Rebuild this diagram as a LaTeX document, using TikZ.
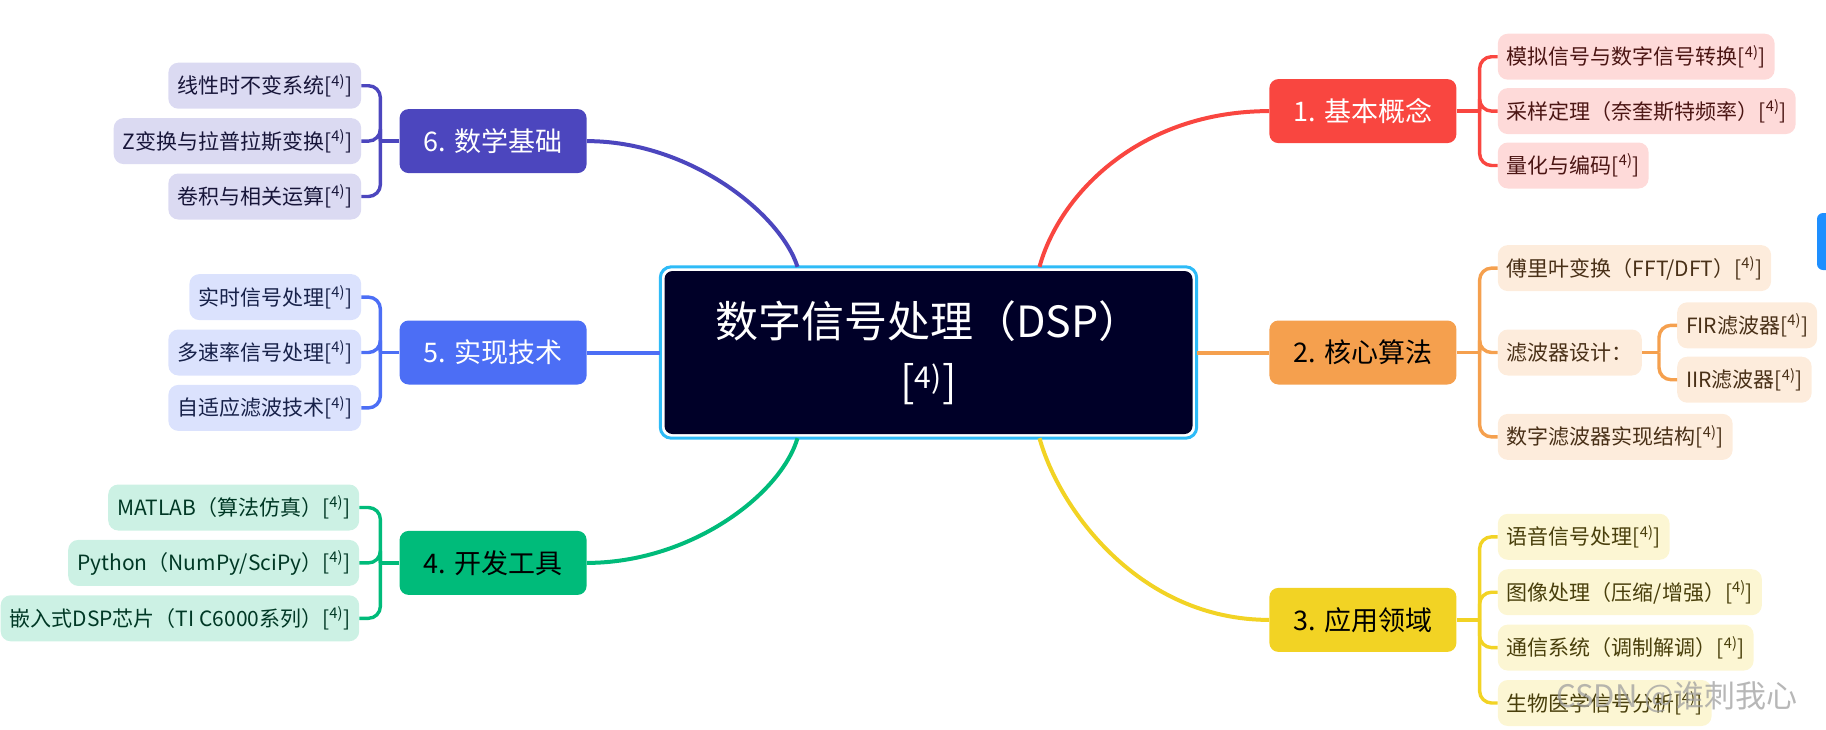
\documentclass[tikz,border=0pt]{standalone}
\usepackage{fontspec}
\setmainfont{Noto Sans CJK SC}
\usetikzlibrary{positioning}
\definecolor{conceptred}{HTML}{F94640}
\definecolor{algoorange}{HTML}{F5A04E}
\definecolor{appyellow}{HTML}{F2D324}
\definecolor{toolgreen}{HTML}{00BB7A}
\definecolor{implblue}{HTML}{4C6EF5}
\definecolor{mathviolet}{HTML}{4C46BE}
\definecolor{rootnavy}{HTML}{000028}
\definecolor{rootrimblue}{HTML}{2EBBF7}
\definecolor{uiblue}{HTML}{1E8FFF}
\newcommand{\srcref}{[\textsuperscript{4)}]}

\begin{document}
\begin{tikzpicture}[
		x=1pt, y=-1pt,
		root/.style={fill=rootnavy, rounded corners=8pt, text=white, align=center,
				minimum width=528pt, minimum height=163pt,
				font=\fontsize{43}{60}\selectfont},
		rootrim/.style={draw=rootrimblue, line width=3pt, rounded corners=11pt},
		branch/.style={fill=#1, rounded corners=9pt, minimum width=187pt,
				minimum height=64pt, font=\fontsize{27}{32}\selectfont},
		leaf/.style={fill=#1!20, text=#1!30!black, rounded corners=10pt,
				minimum height=46pt, inner xsep=9pt,
				font=\fontsize{21}{26}\selectfont},
		limb/.style={draw=#1, line width=4pt},
		twig/.style={draw=#1, line width=3.4pt, rounded corners=12pt},
	]
	\useasboundingbox (0,0) rectangle (1826,729);

	\node[root] (dsp) at (928.5,352.5) {数字信号处理（DSP）\\\srcref};
	\draw[rootrim] ([shift={(-4,-4)}]dsp.north west) rectangle ([shift={(4,4)}]dsp.south east);

	\node[branch=algoorange, right=76.5pt of dsp] (b2) {2. 核心算法};
	\node[branch=conceptred, text=white, above=177pt of b2] (b1) {1. 基本概念};
	\node[branch=appyellow, below=203pt of b2] (b3) {3. 应用领域};
	\node[branch=implblue, text=white, left=77.5pt of dsp] (b5) {5. 实现技术};
	\node[branch=mathviolet, text=white, above=147pt of b5] (b6) {6. 数学基础};
	\node[branch=toolgreen, below=146pt of b5] (b4) {4. 开发工具};

	\node[leaf=conceptred, right=41pt of b1] (c12) {采样定理（奈奎斯特频率）\srcref};
	\node[leaf=conceptred, above=8pt of c12.north west, anchor=south west] (c11) {模拟信号与数字信号转换\srcref};
	\node[leaf=conceptred, below=8pt of c12.south west, anchor=north west] (c13) {量化与编码\srcref};

	\node[leaf=algoorange, right=41pt of b2] (c22) {滤波器设计：};
	\node[leaf=algoorange, above=38pt of c22.north west, anchor=south west] (c21) {傅里叶变换（FFT/DFT）\srcref};
	\node[leaf=algoorange, below=38pt of c22.south west, anchor=north west] (c23) {数字滤波器实现结构\srcref};
	\node[leaf=algoorange, above right=4pt and 35pt of c22.east] (fir) {FIR滤波器\srcref};
	\node[leaf=algoorange, below right=4pt and 35pt of c22.east] (iir) {IIR滤波器\srcref};

	\node[leaf=appyellow, above right=4.5pt and 41pt of b3.east] (c32) {图像处理（压缩/增强）\srcref};
	\node[leaf=appyellow, below right=4.5pt and 41pt of b3.east] (c33) {通信系统（调制解调）\srcref};
	\node[leaf=appyellow, above=9pt of c32.north west, anchor=south west] (c31) {语音信号处理\srcref};
	\node[leaf=appyellow, below=9pt of c33.south west, anchor=north west] (c34) {生物医学信号分析\srcref};

	\node[leaf=toolgreen, left=40pt of b4] (c42) {Python（NumPy/SciPy）\srcref};
	\node[leaf=toolgreen, above=9pt of c42.north east, anchor=south east] (c41) {MATLAB（算法仿真）\srcref};
	\node[leaf=toolgreen, below=9pt of c42.south east, anchor=north east] (c43) {嵌入式DSP芯片（TI C6000系列）\srcref};

	\node[leaf=implblue, left=38pt of b5] (c52) {多速率信号处理\srcref};
	\node[leaf=implblue, above=9pt of c52.north east, anchor=south east] (c51) {实时信号处理\srcref};
	\node[leaf=implblue, below=9pt of c52.south east, anchor=north east] (c53) {自适应滤波技术\srcref};

	\node[leaf=mathviolet, left=38pt of b6] (c62) {Z变换与拉普拉斯变换\srcref};
	\node[leaf=mathviolet, above=9pt of c62.north east, anchor=south east] (c61) {线性时不变系统\srcref};
	\node[leaf=mathviolet, below=9pt of c62.south east, anchor=north east] (c63) {卷积与相关运算\srcref};

	\draw[limb=mathviolet] ([shift={(-131,-4)}]dsp.north) .. controls +(-17,-53) and +(103,0) .. (b6.east);
	\draw[limb=conceptred] ([shift={(111,-4)}]dsp.north) .. controls +(20,-73) and +(-129,0) .. (b1.west);
	\draw[limb=toolgreen] ([shift={(-131,4)}]dsp.south) .. controls +(-17,57) and +(103,0) .. (b4.east);
	\draw[limb=appyellow] ([shift={(111,4)}]dsp.south) .. controls +(20,72) and +(-129,0) .. (b3.west);
	\draw[limb=implblue] (b5.east) -- ([xshift=-4pt]dsp.west);
	\draw[limb=algoorange] ([xshift=4pt]dsp.east) -- (b2.west);

	\coordinate (k1) at ([xshift=23pt]b1.east);
	\coordinate (k2) at ([xshift=23pt]b2.east);
	\coordinate (kf) at ([xshift=17pt]c22.east);
	\coordinate (k3) at ([xshift=23pt]b3.east);
	\coordinate (k4) at ([xshift=-19pt]b4.west);
	\coordinate (k5) at ([xshift=-19pt]b5.west);
	\coordinate (k6) at ([xshift=-19pt]b6.west);

	\draw[twig=conceptred] (b1.east) -- (k1);
	\foreach \c in {c11,c12,c13}
		\draw[twig=conceptred] (k1) |- (\c.west);
	\draw[twig=algoorange] (b2.east) -- (k2);
	\foreach \c in {c21,c22,c23}
		\draw[twig=algoorange] (k2) |- (\c.west);
	\draw[twig=algoorange] (c22.east) -- (kf);
	\foreach \c in {fir,iir}
		\draw[twig=algoorange] (kf) |- (\c.west);
	\draw[twig=appyellow] (b3.east) -- (k3);
	\foreach \c in {c31,c32,c33,c34}
		\draw[twig=appyellow] (k3) |- (\c.west);
	\draw[twig=toolgreen] (b4.west) -- (k4);
	\foreach \c in {c41,c42,c43}
		\draw[twig=toolgreen] (k4) |- (\c.east);
	\draw[twig=implblue] (b5.west) -- (k5);
	\foreach \c in {c51,c52,c53}
		\draw[twig=implblue] (k5) |- (\c.east);
	\draw[twig=mathviolet] (b6.west) -- (k6);
	\foreach \c in {c61,c62,c63}
		\draw[twig=mathviolet] (k6) |- (\c.east);

	\fill[uiblue, rounded corners=6pt] (1817,213) rectangle (1840,270);
	\node[text=gray!75, opacity=0.75, anchor=west, font=\fontsize{31}{34}\selectfont] (wm) at (1553,697) {CSDN @谁刺我心};
\end{tikzpicture}
\end{document}
